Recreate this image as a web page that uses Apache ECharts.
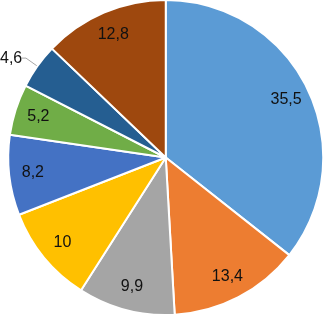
<!DOCTYPE html>
<html><head><meta charset="utf-8">
<script src="https://cdn.jsdelivr.net/npm/echarts@6/dist/echarts.min.js"></script>
<style>html,body{margin:0;padding:0;background:#fff}#c{width:325px;height:315px}</style>
</head><body><div id="c"></div>
<script>
const categories = ['A','B','C','D','E','F','G','H'];
const values = [35.5, 13.4, 9.9, 10, 8.2, 5.2, 4.6, 12.8];
const colors = ['#5B9BD5','#ED7D31','#A5A5A5','#FFC000','#4472C4','#70AD47','#255E91','#9E480E'];
const outsideIndex = 6;

const fmt = p => String(p.value).replace('.', ',');
const textStyle = {fontFamily:'Liberation Sans, Arial, sans-serif', fontSize:16, color:'#111'};

const chart = echarts.init(document.getElementById('c'), null, {renderer:'canvas'});
chart.setOption({
  animation:false,
  series:[
    {
      type:'pie', center:['51%','50%'], radius:['0%','100%'], startAngle:90, clockwise:true,
      avoidLabelOverlap:false,
      itemStyle:{borderColor:'#fff', borderWidth:2},
      label:{show:false},
      labelLine:{show:false},
      data: values.map((v,i)=>({
        name:categories[i], value:v, itemStyle:{color:colors[i]},
        label: i===outsideIndex ? Object.assign({show:true, position:'outside', alignTo:'edge', edgeDistance:0, formatter:fmt, distanceToLabelLine:3}, textStyle) : {show:false},
        labelLine: i===outsideIndex ? {show:true, length:14, length2:4, lineStyle:{color:'#A6A6A6', width:1}} : {show:false}
      }))
    },
    {
      type:'pie', center:['51%','50%'], radius:['66%','100%'], startAngle:90, clockwise:true,
      silent:true, avoidLabelOverlap:false,
      itemStyle:{color:'transparent', borderWidth:0},
      label:Object.assign({show:true, position:'inside', formatter:fmt}, textStyle),
      labelLine:{show:false},
      data: values.map((v,i)=>({name:categories[i], value:v, label:{show:i!==outsideIndex}}))
    }
  ]
});
</script></body></html>
